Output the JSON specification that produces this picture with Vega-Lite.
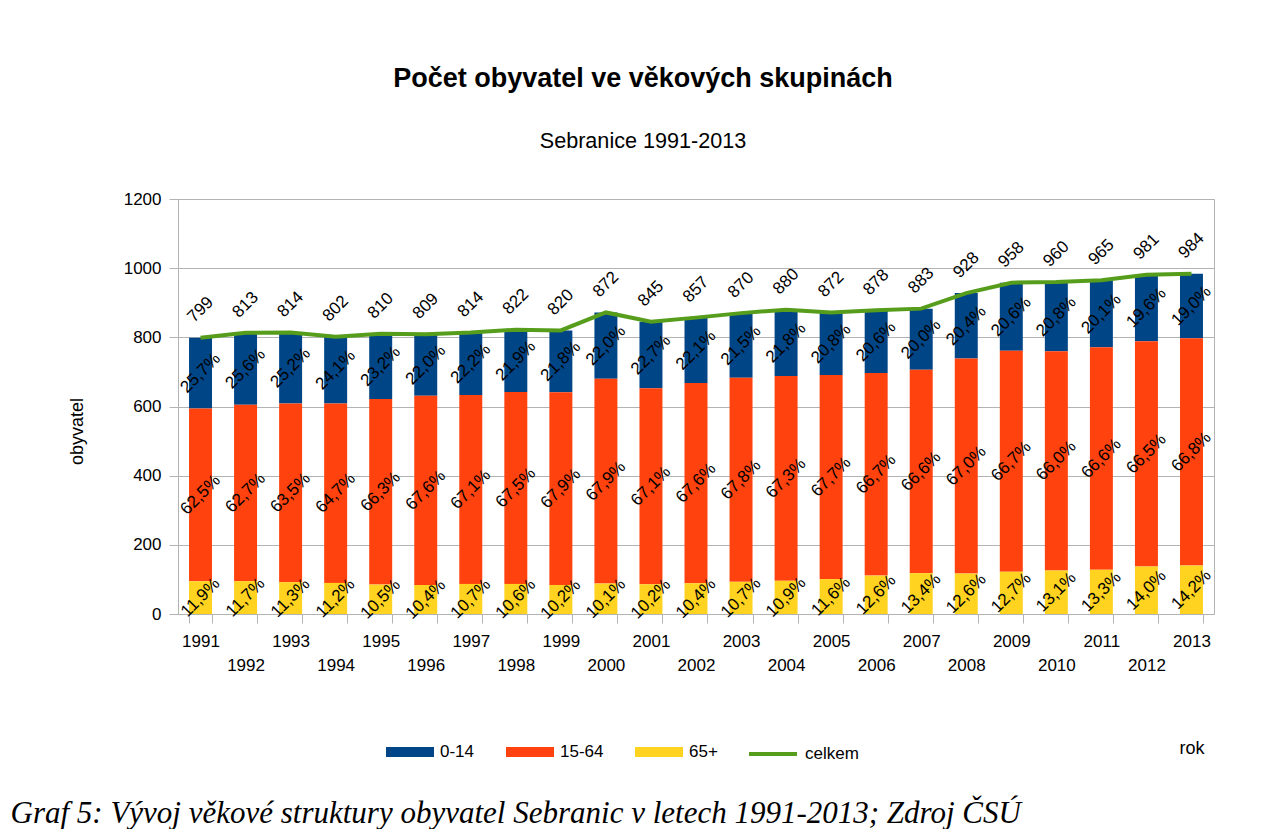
{
  "$schema": "https://vega.github.io/schema/vega-lite/v6.json",
  "background": "white",
  "padding": {"left": 10, "top": 64, "right": 0, "bottom": 0},
  "config": {
    "font": "Liberation Sans",
    "view": {"stroke": "#b3b3b3"},
    "concat": {"spacing": 0}
  },
  "title": {
    "text": "Graf 5: Vývoj věkové struktury obyvatel Sebranic v letech 1991-2013; Zdroj ČSÚ",
    "orient": "bottom",
    "anchor": "start",
    "font": "Liberation Serif",
    "fontStyle": "italic",
    "fontWeight": "normal",
    "fontSize": 31,
    "color": "black",
    "dx": -57,
    "offset": 37
  },
  "datasets": {
    "groups": [
      {"year": 1991, "group": "0-14", "count": 205, "label": "25,7%"},
      {"year": 1991, "group": "15-64", "count": 499, "label": "62,5%"},
      {"year": 1991, "group": "65+", "count": 95, "label": "11,9%"},
      {"year": 1992, "group": "0-14", "count": 208, "label": "25,6%"},
      {"year": 1992, "group": "15-64", "count": 510, "label": "62,7%"},
      {"year": 1992, "group": "65+", "count": 95, "label": "11,7%"},
      {"year": 1993, "group": "0-14", "count": 205, "label": "25,2%"},
      {"year": 1993, "group": "15-64", "count": 517, "label": "63,5%"},
      {"year": 1993, "group": "65+", "count": 92, "label": "11,3%"},
      {"year": 1994, "group": "0-14", "count": 193, "label": "24,1%"},
      {"year": 1994, "group": "15-64", "count": 519, "label": "64,7%"},
      {"year": 1994, "group": "65+", "count": 90, "label": "11,2%"},
      {"year": 1995, "group": "0-14", "count": 188, "label": "23,2%"},
      {"year": 1995, "group": "15-64", "count": 537, "label": "66,3%"},
      {"year": 1995, "group": "65+", "count": 85, "label": "10,5%"},
      {"year": 1996, "group": "0-14", "count": 178, "label": "22,0%"},
      {"year": 1996, "group": "15-64", "count": 547, "label": "67,6%"},
      {"year": 1996, "group": "65+", "count": 84, "label": "10,4%"},
      {"year": 1997, "group": "0-14", "count": 181, "label": "22,2%"},
      {"year": 1997, "group": "15-64", "count": 546, "label": "67,1%"},
      {"year": 1997, "group": "65+", "count": 87, "label": "10,7%"},
      {"year": 1998, "group": "0-14", "count": 180, "label": "21,9%"},
      {"year": 1998, "group": "15-64", "count": 555, "label": "67,5%"},
      {"year": 1998, "group": "65+", "count": 87, "label": "10,6%"},
      {"year": 1999, "group": "0-14", "count": 179, "label": "21,8%"},
      {"year": 1999, "group": "15-64", "count": 557, "label": "67,9%"},
      {"year": 1999, "group": "65+", "count": 84, "label": "10,2%"},
      {"year": 2000, "group": "0-14", "count": 192, "label": "22,0%"},
      {"year": 2000, "group": "15-64", "count": 592, "label": "67,9%"},
      {"year": 2000, "group": "65+", "count": 88, "label": "10,1%"},
      {"year": 2001, "group": "0-14", "count": 192, "label": "22,7%"},
      {"year": 2001, "group": "15-64", "count": 567, "label": "67,1%"},
      {"year": 2001, "group": "65+", "count": 86, "label": "10,2%"},
      {"year": 2002, "group": "0-14", "count": 189, "label": "22,1%"},
      {"year": 2002, "group": "15-64", "count": 579, "label": "67,6%"},
      {"year": 2002, "group": "65+", "count": 89, "label": "10,4%"},
      {"year": 2003, "group": "0-14", "count": 187, "label": "21,5%"},
      {"year": 2003, "group": "15-64", "count": 590, "label": "67,8%"},
      {"year": 2003, "group": "65+", "count": 93, "label": "10,7%"},
      {"year": 2004, "group": "0-14", "count": 192, "label": "21,8%"},
      {"year": 2004, "group": "15-64", "count": 592, "label": "67,3%"},
      {"year": 2004, "group": "65+", "count": 96, "label": "10,9%"},
      {"year": 2005, "group": "0-14", "count": 181, "label": "20,8%"},
      {"year": 2005, "group": "15-64", "count": 590, "label": "67,7%"},
      {"year": 2005, "group": "65+", "count": 101, "label": "11,6%"},
      {"year": 2006, "group": "0-14", "count": 181, "label": "20,6%"},
      {"year": 2006, "group": "15-64", "count": 586, "label": "66,7%"},
      {"year": 2006, "group": "65+", "count": 111, "label": "12,6%"},
      {"year": 2007, "group": "0-14", "count": 177, "label": "20,0%"},
      {"year": 2007, "group": "15-64", "count": 588, "label": "66,6%"},
      {"year": 2007, "group": "65+", "count": 118, "label": "13,4%"},
      {"year": 2008, "group": "0-14", "count": 189, "label": "20,4%"},
      {"year": 2008, "group": "15-64", "count": 622, "label": "67,0%"},
      {"year": 2008, "group": "65+", "count": 117, "label": "12,6%"},
      {"year": 2009, "group": "0-14", "count": 197, "label": "20,6%"},
      {"year": 2009, "group": "15-64", "count": 639, "label": "66,7%"},
      {"year": 2009, "group": "65+", "count": 122, "label": "12,7%"},
      {"year": 2010, "group": "0-14", "count": 200, "label": "20,8%"},
      {"year": 2010, "group": "15-64", "count": 634, "label": "66,0%"},
      {"year": 2010, "group": "65+", "count": 126, "label": "13,1%"},
      {"year": 2011, "group": "0-14", "count": 194, "label": "20,1%"},
      {"year": 2011, "group": "15-64", "count": 643, "label": "66,6%"},
      {"year": 2011, "group": "65+", "count": 128, "label": "13,3%"},
      {"year": 2012, "group": "0-14", "count": 192, "label": "19,6%"},
      {"year": 2012, "group": "15-64", "count": 652, "label": "66,5%"},
      {"year": 2012, "group": "65+", "count": 137, "label": "14,0%"},
      {"year": 2013, "group": "0-14", "count": 187, "label": "19,0%"},
      {"year": 2013, "group": "15-64", "count": 657, "label": "66,8%"},
      {"year": 2013, "group": "65+", "count": 140, "label": "14,2%"}
    ],
    "totals": [
      {"year": 1991, "total": 799, "series": "celkem"},
      {"year": 1992, "total": 813, "series": "celkem"},
      {"year": 1993, "total": 814, "series": "celkem"},
      {"year": 1994, "total": 802, "series": "celkem"},
      {"year": 1995, "total": 810, "series": "celkem"},
      {"year": 1996, "total": 809, "series": "celkem"},
      {"year": 1997, "total": 814, "series": "celkem"},
      {"year": 1998, "total": 822, "series": "celkem"},
      {"year": 1999, "total": 820, "series": "celkem"},
      {"year": 2000, "total": 872, "series": "celkem"},
      {"year": 2001, "total": 845, "series": "celkem"},
      {"year": 2002, "total": 857, "series": "celkem"},
      {"year": 2003, "total": 870, "series": "celkem"},
      {"year": 2004, "total": 880, "series": "celkem"},
      {"year": 2005, "total": 872, "series": "celkem"},
      {"year": 2006, "total": 878, "series": "celkem"},
      {"year": 2007, "total": 883, "series": "celkem"},
      {"year": 2008, "total": 928, "series": "celkem"},
      {"year": 2009, "total": 958, "series": "celkem"},
      {"year": 2010, "total": 960, "series": "celkem"},
      {"year": 2011, "total": 965, "series": "celkem"},
      {"year": 2012, "total": 981, "series": "celkem"},
      {"year": 2013, "total": 984, "series": "celkem"}
    ]
  },
  "vconcat": [
    {
      "width": 1036,
      "height": 415,
      "title": {
        "text": "Počet obyvatel ve věkových skupinách",
        "subtitle": "Sebranice 1991-2013",
        "anchor": "middle",
        "fontSize": 27,
        "fontWeight": "bold",
        "color": "black",
        "subtitleFontSize": 21.6,
        "subtitleColor": "black",
        "subtitlePadding": 38,
        "offset": 36,
        "dx": -53
      },
      "layer": [
        {
          "data": {"name": "groups"},
          "mark": {"type": "bar"},
          "encoding": {
            "x": {
              "field": "year",
              "type": "ordinal",
              "title": "rok",
              "scale": {"paddingInner": 0.49, "paddingOuter": 0.245},
              "axis": {
                "labelAngle": 0,
                "labelFontSize": 17,
                "labelColor": "black",
                "labelExpr": "datum.value % 2 == 0 ? ['', datum.label] : datum.label",
                "labelLineHeight": 24,
                "labelBaseline": "top",
                "labelPadding": 10,
                "labelOverlap": false,
                "tickSize": 9,
                "tickBand": "extent",
                "tickColor": "#b3b3b3",
                "domainColor": "#b3b3b3",
                "grid": false,
                "titleX": 1001,
                "titleY": 139,
                "titleAlign": "left",
                "titleBaseline": "alphabetic",
                "titleFontSize": 18,
                "titleFontWeight": "normal",
                "titleColor": "black"
              }
            },
            "y": {
              "field": "count",
              "type": "quantitative",
              "stack": "zero",
              "title": "obyvatel",
              "scale": {"domain": [0, 1200]},
              "axis": {
                "values": [0, 200, 400, 600, 800, 1000, 1200],
                "format": "d",
                "labelFontSize": 17,
                "labelColor": "black",
                "labelPadding": 8,
                "tickSize": 9,
                "tickColor": "#b3b3b3",
                "domainColor": "#b3b3b3",
                "gridColor": "#b3b3b3",
                "titleFontSize": 18,
                "titleFontWeight": "normal",
                "titleColor": "black",
                "titleX": -96,
                "titleY": 232,
                "titleAngle": -90,
                "titleAlign": "center",
                "titleBaseline": "alphabetic"
              }
            },
            "color": {
              "field": "group",
              "type": "nominal",
              "scale": {"domain": ["0-14", "15-64", "65+"], "range": ["#004586", "#ff420e", "#ffd320"]},
              "legend": {
                "orient": "none",
                "legendX": 208,
                "legendY": 529,
                "direction": "horizontal",
                "title": null,
                "symbolType": "M-1,-0.21H1V0.21H-1Z",
                "symbolSize": 2304,
                "symbolStrokeWidth": 0,
                "symbolOpacity": 1,
                "labelFontSize": 17,
                "labelColor": "black",
                "labelOffset": 6,
                "columnPadding": 31
              }
            },
            "order": {"field": "group", "sort": "descending"}
          }
        },
        {
          "data": {"name": "groups"},
          "transform": [
            {"stack": "count", "groupby": ["year"], "sort": [{"field": "group", "order": "descending"}], "as": ["lo", "hi"]},
            {"fold": ["lo", "hi"], "as": ["edge", "pos"]}
          ],
          "mark": {"type": "text", "angle": 315, "fontSize": 17, "align": "center", "baseline": "middle", "color": "black"},
          "encoding": {
            "x": {"field": "year", "type": "ordinal", "title": "rok"},
            "y": {"field": "pos", "type": "quantitative", "aggregate": "mean", "title": "obyvatel"},
            "text": {"field": "label", "type": "nominal"},
            "detail": {"field": "group", "type": "nominal"}
          }
        },
        {
          "data": {"name": "totals"},
          "mark": {"type": "line", "strokeWidth": 4},
          "encoding": {
            "x": {"field": "year", "type": "ordinal", "title": "rok"},
            "y": {"field": "total", "type": "quantitative", "title": "obyvatel"},
            "stroke": {
              "field": "series",
              "type": "nominal",
              "scale": {"domain": ["celkem"], "range": ["#579d1c"]},
              "legend": {
                "orient": "none",
                "legendX": 569,
                "legendY": 529,
                "direction": "horizontal",
                "title": null,
                "symbolType": "stroke",
                "symbolSize": 2304,
                "symbolStrokeWidth": 4,
                "labelFontSize": 17,
                "labelColor": "black",
                "labelOffset": 6
              }
            }
          }
        },
        {
          "data": {"name": "totals"},
          "mark": {"type": "text", "angle": 315, "fontSize": 17, "align": "center", "baseline": "middle", "color": "black", "yOffset": -28},
          "encoding": {
            "x": {"field": "year", "type": "ordinal", "title": "rok"},
            "y": {"field": "total", "type": "quantitative", "title": "obyvatel"},
            "text": {"field": "total", "type": "quantitative"}
          }
        }
      ]
    }
  ]
}
